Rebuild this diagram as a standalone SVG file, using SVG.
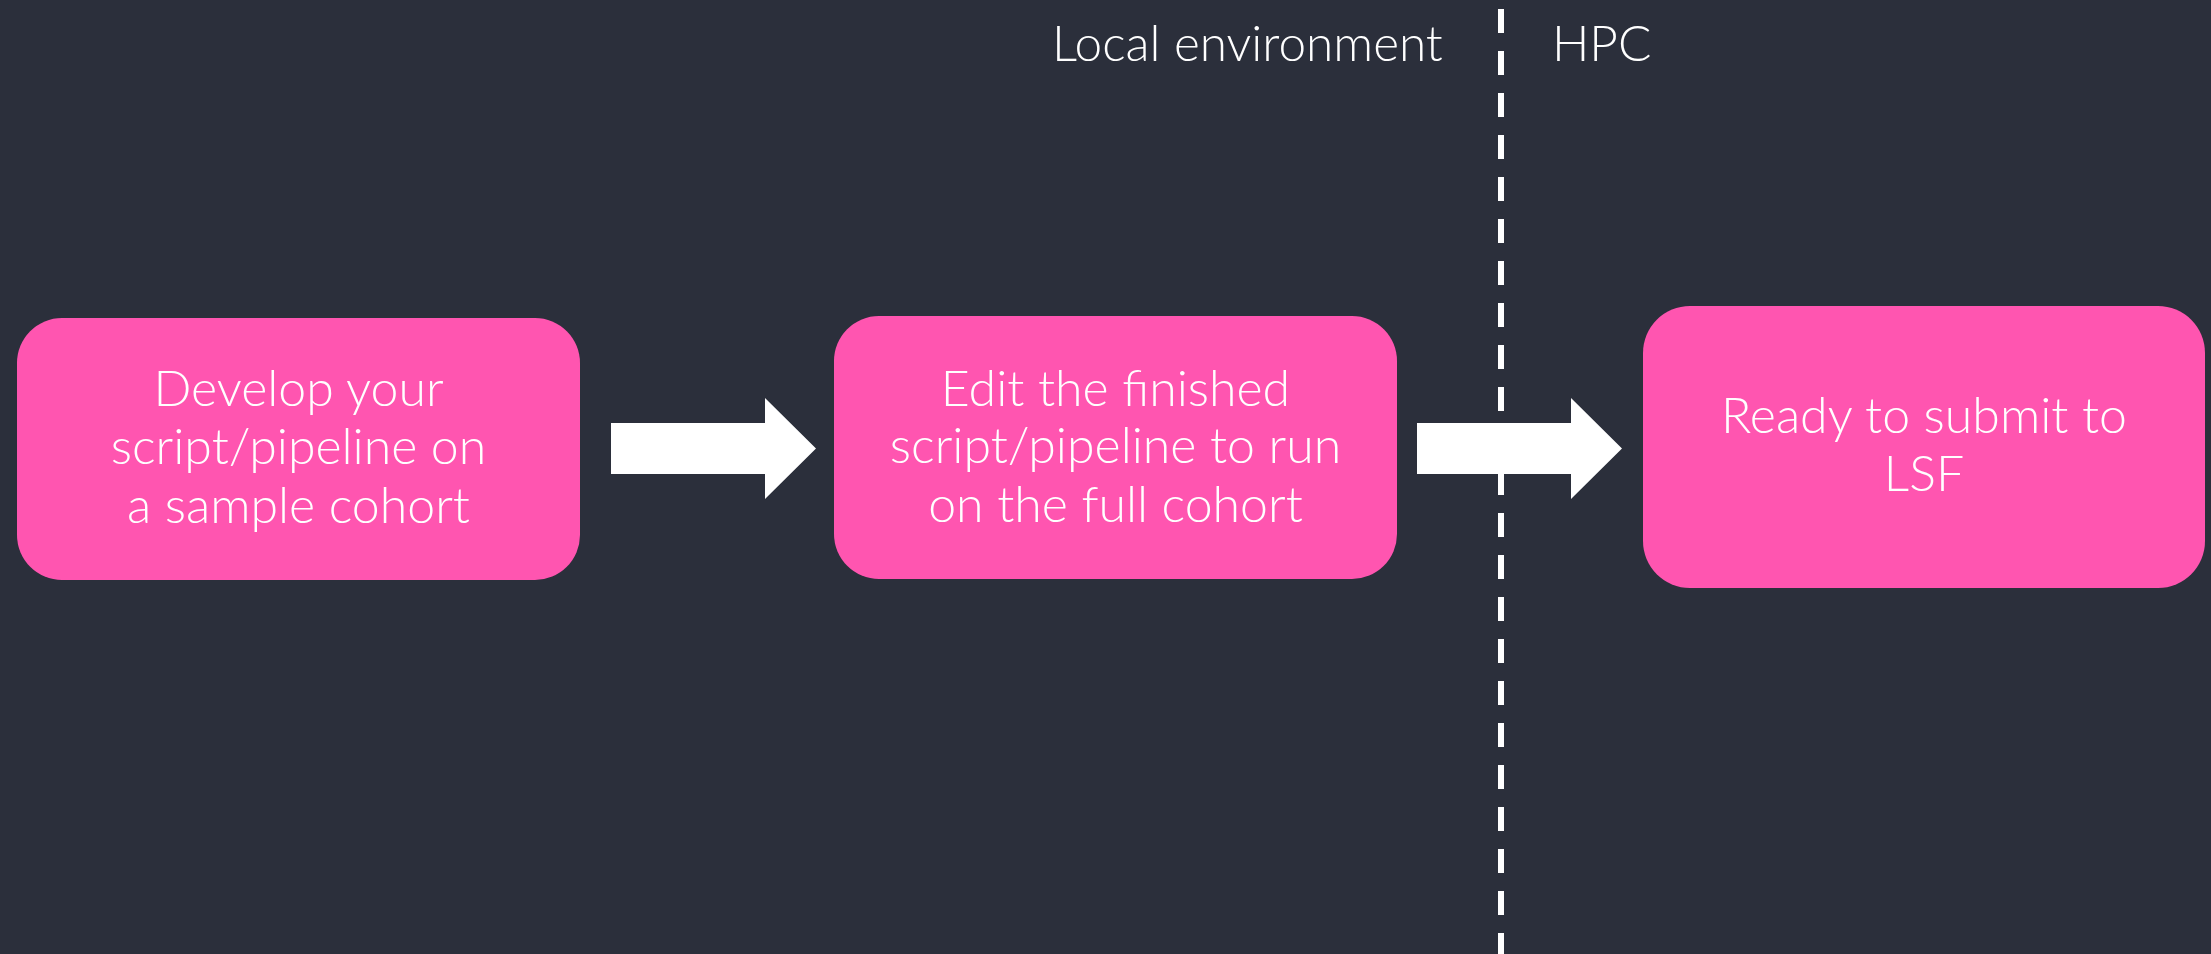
<svg xmlns="http://www.w3.org/2000/svg" width="2211" height="954" viewBox="0 0 2211 954">
<style>
.node{fill:#ff55b0}
.t{font-family:Lato,"Open Sans","Liberation Sans",sans-serif;font-weight:300;fill:#ffffff;text-anchor:middle;font-size:50px}
.lbl{font-family:Lato,"Open Sans","Liberation Sans",sans-serif;font-weight:300;fill:#ffffff;font-size:49.5px}
.arrow{fill:#ffffff}
</style>
<rect width="2211" height="954" fill="#2b2f3b"/>
<g id="divider">
<line x1="1501" y1="9" x2="1501" y2="954" stroke="#ffffff" stroke-width="6" stroke-dasharray="24 18"/>
<text class="lbl" x="1052" y="61">Local environment</text>
<text class="lbl" x="1552" y="61">HPC</text>
</g>
<g id="node1">
<rect class="node" x="17" y="318" width="563" height="262" rx="45" ry="45"/>
<text class="t" x="298.5" y="406">Develop your</text>
<text class="t" x="298.5" y="464">script/pipeline on</text>
<text class="t" x="298.5" y="523">a sample cohort</text>
</g>
<g id="node2">
<rect class="node" x="834" y="316" width="563" height="263" rx="45" ry="45"/>
<text class="t" x="1115.5" y="406">Edit the finished</text>
<text class="t" x="1115.5" y="463">script/pipeline to run</text>
<text class="t" x="1115.5" y="522">on the full cohort</text>
</g>
<g id="node3">
<rect class="node" x="1643" y="306" width="562" height="282" rx="47" ry="47"/>
<text class="t" x="1924" y="433">Ready to submit to</text>
<text class="t" x="1924" y="491">LSF</text>
</g>
<g id="connectors">
<polygon class="arrow" points="611,423 765,423 765,398 816,448.5 765,499 765,474 611,474"/>
<polygon class="arrow" points="1417,423 1571,423 1571,398 1622,448.5 1571,499 1571,474 1417,474"/>
</g>
</svg>
